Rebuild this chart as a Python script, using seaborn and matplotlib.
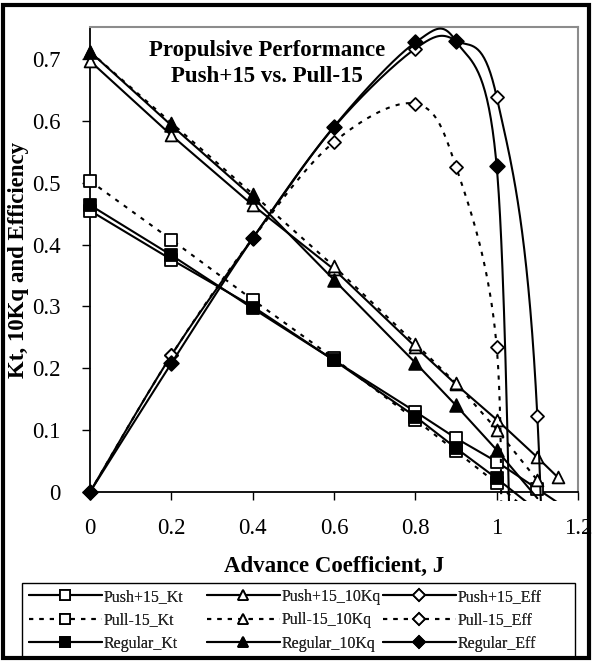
import numpy as np
import matplotlib
matplotlib.use("Agg")
import matplotlib.pyplot as plt
import seaborn as sns
from matplotlib.lines import Line2D
from matplotlib.patches import Rectangle
from matplotlib.transforms import Bbox, TransformedBbox
from matplotlib.ticker import FuncFormatter, MultipleLocator

sns.set_style("white")
plt.rcParams['font.family'] = ['Liberation Serif', 'DejaVu Serif']

# ---------------- data ----------------
j_push = [0, 0.2, 0.4, 0.6, 0.8, 0.9, 1.0, 1.1, 1.15]
push_kt = [0.455, 0.376, 0.300, 0.213, 0.130, 0.087, 0.049, 0.005, -0.017]
push_kq10 = [0.697, 0.577, 0.464, 0.360, 0.235, 0.174, 0.117, 0.056, 0.024]
push_eff = [0.0, 0.221, 0.41, 0.59, 0.717, 0.730, 0.639, 0.123, -1.3]

j_pull = [0, 0.2, 0.4, 0.6, 0.8, 0.9, 1.0, 1.1]
pull_kt = [0.503, 0.408, 0.311, 0.216, 0.117, 0.066, 0.014, -0.045]
pull_kq10 = [0.712, 0.597, 0.482, 0.365, 0.240, 0.176, 0.101, 0.019]
j_pull_eff = [0, 0.2, 0.4, 0.6, 0.8, 0.9, 1.0, 1.01]
pull_eff = [0.0, 0.221, 0.41, 0.566, 0.628, 0.526, 0.235, -0.3]

j_reg = [0, 0.2, 0.4, 0.6, 0.8, 0.9, 1.0, 1.1]
reg_kt = [0.464, 0.383, 0.297, 0.213, 0.122, 0.071, 0.022, -0.03]
reg_kq10 = [0.712, 0.593, 0.477, 0.343, 0.209, 0.140, 0.068, -0.01]
j_reg_eff = [0, 0.2, 0.4, 0.6, 0.8, 0.9, 1.0, 1.04]
reg_eff = [0.0, 0.208, 0.41, 0.591, 0.727, 0.729, 0.527, -0.3]

labels = ["Push+15_Kt", "Push+15_10Kq", "Push+15_Eff",
          "Pull-15_Kt", "Pull-15_10Kq", "Pull-15_Eff",
          "Regular_Kt", "Regular_10Kq", "Regular_Eff"]

x_ticks = [0, 0.2, 0.4, 0.6, 0.8, 1.0, 1.2]
title_text = "Propulsive Performance\nPush+15 vs. Pull-15"
XMAX, YMAX = 1.2, 0.752


def excel_smooth(x, y, n=40):
    x = np.asarray(x, float)
    y = np.asarray(y, float)
    N = len(x)
    xs, ys = [x[0]], [y[0]]
    for i in range(N - 1):
        p0 = np.array([x[max(i - 1, 0)], y[max(i - 1, 0)]])
        p1 = np.array([x[i], y[i]])
        p2 = np.array([x[i + 1], y[i + 1]])
        p3 = np.array([x[min(i + 2, N - 1)], y[min(i + 2, N - 1)]])
        c1 = p1 + (p2 - p0) / 6.0
        c2 = p2 - (p3 - p1) / 6.0
        t = np.linspace(0, 1, n)[1:, None]
        pts = ((1 - t) ** 3) * p1 + 3 * ((1 - t) ** 2) * t * c1 + 3 * (1 - t) * t ** 2 * c2 + t ** 3 * p2
        xs.extend(pts[:, 0])
        ys.extend(pts[:, 1])
    return np.array(xs), np.array(ys)


fig = plt.figure(figsize=(5.92, 6.61), dpi=100)
ax = fig.add_axes([90 / 592, 1 - 492 / 661, 488 / 592, 465 / 661])

DOT = (0, (2, 3))
series = [
    # x, y, marker, filled, linestyle, smooth
    (j_push, push_kt, 's', False, '-', False),
    (j_push, push_kq10, '^', False, '-', False),
    (j_push, push_eff, 'D', False, '-', True),
    (j_pull, pull_kt, 's', False, DOT, False),
    (j_pull, pull_kq10, '^', False, DOT, False),
    (j_pull_eff, pull_eff, 'D', False, DOT, True),
    (j_reg, reg_kt, 's', True, '-', False),
    (j_reg, reg_kq10, '^', True, '-', False),
    (j_reg_eff, reg_eff, 'D', True, '-', True),
]

sizes = {'s': 66, '^': 72, 'D': 44}
clipbox = TransformedBbox(Bbox.from_extents(0, -0.014, XMAX, YMAX), ax.transData)

handles = []
for k, (xs, ys, mk, filled, ls, smooth) in enumerate(series):
    z = 3 + 2 * k
    if smooth:
        lx, ly = excel_smooth(xs, ys)
    else:
        lx, ly = np.asarray(xs, float), np.asarray(ys, float)
    n_before = len(ax.lines)
    sns.lineplot(x=lx, y=ly, ax=ax, color='black', linewidth=1.5, linestyle=ls,
                 estimator=None, sort=False, zorder=z, legend=False)
    for ln in ax.lines[n_before:]:
        ln.set_clip_path(None)
        ln.set_clip_box(clipbox)
    xa = np.asarray(xs, float)
    ya = np.asarray(ys, float)
    keep = (ya >= -0.001) & (ya <= YMAX)
    s = sizes[mk] + (12 if filled else 0)
    sns.scatterplot(x=xa[keep], y=ya[keep], ax=ax, marker=mk, s=s,
                    color='black' if filled else 'white', edgecolor='black',
                    linewidth=1.3, zorder=z + 1, clip_on=False, legend=False)
    handles.append(Line2D([], [], color='black', lw=1.5, linestyle=ls, marker=mk,
                          markersize=(7.5 if mk != 'D' else 6.2),
                          markerfacecolor='black' if filled else 'white',
                          markeredgecolor='black', markeredgewidth=1.3))

ax.set_xlim(0, XMAX)
ax.set_ylim(0, YMAX)
ax.set_xticks(x_ticks)
ax.yaxis.set_major_locator(MultipleLocator(0.1))
fmt = FuncFormatter(lambda v, p: ('%g' % round(v, 3)))
ax.xaxis.set_major_formatter(fmt)
ax.yaxis.set_major_formatter(fmt)
ax.tick_params(axis='both', direction='out', length=6, width=1.0, color='black',
               labelsize=16.5, labelcolor='black')
ax.tick_params(axis='x', pad=13, bottom=True)
ax.tick_params(axis='y', pad=15, left=True)
ax.set_ylim(0, YMAX)

for side in ['left', 'bottom']:
    ax.spines[side].set_color('black')
    ax.spines[side].set_linewidth(1.3)
for side in ['top', 'right']:
    ax.spines[side].set_color('#8c8c8c')
    ax.spines[side].set_linewidth(1.5)
ax.set_facecolor('white')
ax.grid(False)

ax.set_xlabel("Advance Coefficient, J", fontsize=16.5, fontweight='bold', color='black')
ax.xaxis.set_label_coords(0.5, -0.161)
ax.xaxis.label.set_va('center')
ax.set_ylabel("Kt, 10Kq and Efficiency", fontsize=16.5, fontweight='bold', color='black')
ax.yaxis.set_label_coords(-0.147, 0.5)
ax.yaxis.label.set_va('center')

ax.text(0.435, 0.693, title_text, ha='center', va='center', fontsize=16.5,
        fontweight='bold', linespacing=1.3, color='black', zorder=30)

# legend: three columns on a fixed grid inside one frame
col_x = [29, 207, 383]
leg_top = 589
for c in range(3):
    idx = [c, 3 + c, 6 + c]
    lg = fig.legend([handles[i] for i in idx], [labels[i] for i in idx],
                    loc='upper left', bbox_to_anchor=(col_x[c] / 592, 1 - leg_top / 661),
                    borderaxespad=0, frameon=False, fontsize=11.4, handlelength=4.6,
                    handletextpad=0.12, labelspacing=0.46, borderpad=0.0)
    fig.add_artist(lg)

fig.patches.append(Rectangle((22 / 592, 1 - 657 / 661), (575 - 22) / 592, (657 - 583) / 661,
                             transform=fig.transFigure, fill=False, lw=1.0, ec='black'))

fig.patches.append(Rectangle((2.5 / 592, 1 - 658 / 661), (589 - 2.5) / 592, (658 - 5) / 661,
                             transform=fig.transFigure, fill=False, lw=3, ec='black'))

fig.savefig("out.png", dpi=100, facecolor='white')
